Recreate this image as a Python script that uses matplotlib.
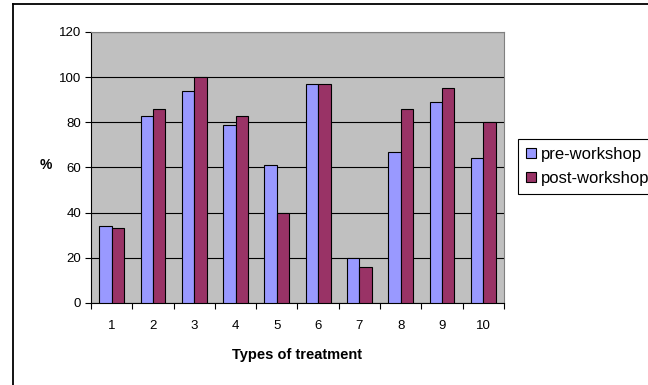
import matplotlib.pyplot as plt
import numpy as np
from matplotlib.lines import Line2D

plt.rcParams['font.family'] = ['Liberation Sans', 'DejaVu Sans']

# data
categories = ['1', '2', '3', '4', '5', '6', '7', '8', '9', '10']
pre_workshop = [34, 83, 94, 79, 61, 97, 20, 67, 89, 64]
post_workshop = [33, 86, 100, 83, 40, 97, 16, 86, 95, 80]
y_ticks = [0, 20, 40, 60, 80, 100, 120]

fig = plt.figure(figsize=(6.48, 3.85), dpi=100)
ax = fig.add_axes([0.1404, 0.213, 0.6374, 0.704])

x = np.arange(1, len(categories) + 1)
w = 0.3
ax.set_facecolor('#C0C0C0')
ax.bar(x - w / 2, pre_workshop, w, color='#9999FF', edgecolor='black',
       linewidth=0.8, label='pre-workshop', zorder=3)
ax.bar(x + w / 2, post_workshop, w, color='#993366', edgecolor='black',
       linewidth=0.8, label='post-workshop', zorder=3)

ax.set_xlim(0.5, len(categories) + 0.5)
ax.set_ylim(0, 120)
ax.set_yticks(y_ticks)
ax.yaxis.grid(True, color='black', linewidth=0.8, zorder=1)
ax.set_xticks(x)
ax.set_xticklabels(categories, fontsize=9.5)
ax.set_xticks(np.arange(0.5, len(categories) + 1, 1), minor=True)
ax.tick_params(axis='x', which='major', length=0, pad=12)
ax.tick_params(axis='x', which='minor', length=4, width=0.8, direction='out')
ax.tick_params(axis='y', length=4, width=0.8, labelsize=9.5, pad=3)

for s in ['top', 'right']:
    ax.spines[s].set_color('#808080')
    ax.spines[s].set_linewidth(0.8)
for s in ['left', 'bottom']:
    ax.spines[s].set_color('black')
    ax.spines[s].set_linewidth(0.8)

ax.set_xlabel('Types of treatment', fontsize=10.5, fontweight='bold',
              labelpad=12)
fig.text(40 / 648, 1 - 165 / 385, '%', fontsize=10, fontweight='bold',
         ha='left', va='center')

leg = ax.legend(loc='upper left', bbox_to_anchor=(518 / 648, 1 - 139 / 385),
                bbox_transform=fig.transFigure, fontsize=12, frameon=True,
                fancybox=False, edgecolor='black', framealpha=1,
                handlelength=0.55, handleheight=0.55, handletextpad=0.35,
                borderpad=0.5, labelspacing=0.5, borderaxespad=0)
leg.get_frame().set_linewidth(0.8)

# outer chart border (only top and left edges fall inside the image)
fig.lines.append(Line2D([12.5 / 648, 1], [1 - 4 / 385, 1 - 4 / 385],
                        transform=fig.transFigure, color='black', linewidth=1.3))
fig.lines.append(Line2D([12.5 / 648, 12.5 / 648], [0, 1 - 4 / 385],
                        transform=fig.transFigure, color='black', linewidth=1.3))

fig.savefig('out.png', dpi=100)
